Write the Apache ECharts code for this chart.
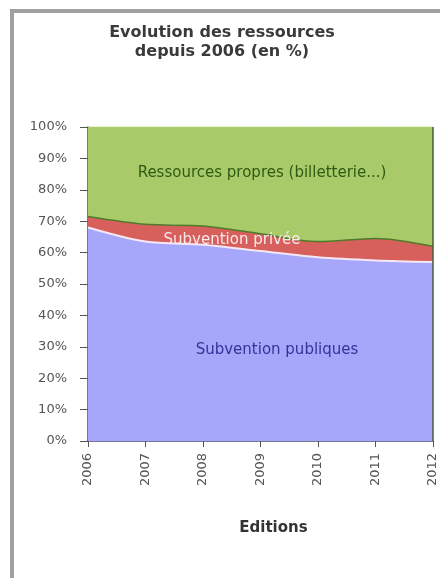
<!DOCTYPE html>
<html>
<head>
<meta charset="utf-8">
<script src="https://cdn.jsdelivr.net/npm/echarts@6/dist/echarts.min.js"></script>
<style>
html,body{margin:0;padding:0;background:#fff;}
#c{width:440px;height:578px;}
</style>
</head>
<body>
<div id="c"></div>
<script>
var editions = ['2006','2007','2008','2009','2010','2011','2012'];
var subventionPubliques = [68, 63.5, 62.5, 60.5, 58.5, 57.5, 57];
var subventionPrivee = [3.5, 5.5, 6, 5.5, 5, 7, 5];
var ressourcesPropres = [28.5, 31, 31.5, 34, 36.5, 35.5, 38];
var yTicks = [0,10,20,30,40,50,60,70,80,90,100];

var chart = echarts.init(document.getElementById('c'));
chart.setOption({
  animation: false,
  backgroundColor: '#fff',
  title: {
    text: 'Evolution des ressources\ndepuis 2006 (en %)',
    left: 217, top: 18, textAlign: 'center',
    textStyle: {fontFamily: 'DejaVu Sans', fontSize: 16, fontWeight: 'bold', color: '#3a3a3a', lineHeight: 19}
  },
  grid: {left: 88, right: 7, top: 127, bottom: 137},
  xAxis: {
    type: 'category', data: editions, boundaryGap: false,
    name: 'Editions', nameLocation: 'middle', nameGap: 80,
    nameTextStyle: {fontFamily: 'DejaVu Sans', fontSize: 15, fontWeight: 'bold', color: '#333', padding: [0,0,0,26]},
    axisLine: {lineStyle: {color: '#4a4a6a', width: 1.5}},
    axisTick: {show: true, alignWithLabel: true, length: 6, lineStyle: {color: '#555'}},
    axisLabel: {rotate: 90, fontFamily: 'DejaVu Sans', fontSize: 13, color: '#555', margin: 12, interval: 0}
  },
  yAxis: {
    type: 'value', min: 0, max: 100, interval: 10,
    axisLine: {show: true, lineStyle: {color: '#4a4a6a', width: 1.5}},
    axisTick: {show: true, length: 8, lineStyle: {color: '#555'}},
    splitLine: {show: false},
    axisLabel: {formatter: '{value}%', fontFamily: 'DejaVu Sans', fontSize: 13, color: '#555', margin: 21}
  },
  series: [
    {name: 'Subvention publiques', type: 'line', stack: 't', data: subventionPubliques, smooth: 0.3, symbol: 'none',
     lineStyle: {color: '#f4e8f4', width: 2}, areaStyle: {color: '#a6a6fb', opacity: 1}},
    {name: 'Subvention privée', type: 'line', stack: 't', data: subventionPrivee, smooth: 0.3, symbol: 'none',
     lineStyle: {color: '#4e7a2a', width: 1.5}, areaStyle: {color: '#d8605c', opacity: 1}},
    {name: 'Ressources propres', type: 'line', stack: 't', data: ressourcesPropres, smooth: 0.3, symbol: 'none',
     lineStyle: {color: '#b0d070', width: 1}, areaStyle: {color: '#a9ca68', opacity: 1}}
  ],
  graphic: [
    {type: 'line', z: 100, shape: {x1: 12, y1: 11, x2: 12, y2: 578}, style: {stroke: '#a0a0a0', lineWidth: 4}},
    {type: 'line', z: 100, shape: {x1: 10, y1: 11, x2: 440, y2: 11}, style: {stroke: '#a0a0a0', lineWidth: 4}},
    {type: 'line', z: 100, shape: {x1: 433, y1: 127, x2: 433, y2: 441}, style: {stroke: '#4a5a3a', lineWidth: 1.5}},
    {type: 'text', z: 100, x: 262, y: 173, style: {text: 'Ressources propres (billetterie...)', font: '15px "DejaVu Sans"', fill: '#2e5a12', align: 'center', verticalAlign: 'middle'}},
    {type: 'text', z: 100, x: 232, y: 240, style: {text: 'Subvention privée', font: '15px "DejaVu Sans"', fill: '#f8e8ec', align: 'center', verticalAlign: 'middle'}},
    {type: 'text', z: 100, x: 277, y: 350, style: {text: 'Subvention publiques', font: '15px "DejaVu Sans"', fill: '#343498', align: 'center', verticalAlign: 'middle'}}
  ]
});
</script>
</body>
</html>
